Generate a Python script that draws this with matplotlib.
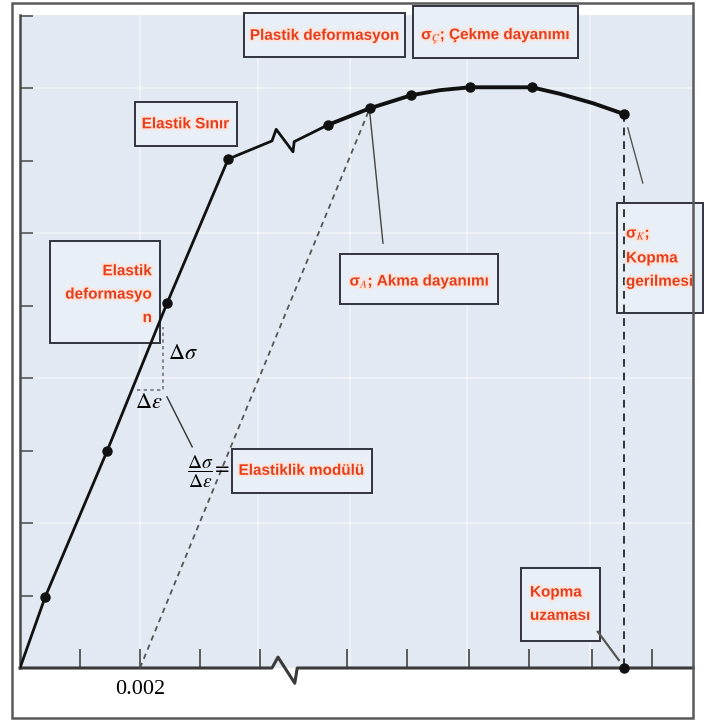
import matplotlib.pyplot as plt
import matplotlib.patheffects as pe
from matplotlib.patches import Rectangle

plt.rcParams['mathtext.fontset'] = 'stix'

# ==== veri: x = birim uzama (tik aralığı), y = gerilme (tik aralığı) ====
elastic_x = [0.0, 0.42, 1.45, 2.45, 3.47]
elastic_y = [0.0, 0.98, 2.99, 5.03, 7.02]
break_x = [3.47, 4.20, 4.27, 4.55, 4.57, 5.13]
break_y = [7.02, 7.27, 7.43, 7.12, 7.26, 7.49]
plastic_x = [5.13, 5.83, 6.52, 7.00, 7.50, 8.53, 9.00, 9.55, 10.07]
plastic_y = [7.49, 7.72, 7.90, 7.97, 8.01, 8.01, 7.92, 7.79, 7.64]
marker_x = [0.42, 1.45, 2.45, 3.47, 5.13, 5.83, 6.52, 7.50, 8.53, 10.07]
marker_y = [0.98, 2.99, 5.03, 7.02, 7.49, 7.72, 7.90, 8.01, 8.01, 7.64]
tail_x = [10.13, 10.38]
tail_y = [7.45, 6.69]
offset_x = [2.0, 5.83]
offset_y = [0.0, 7.72]
fracture_x = 10.07
fracture_y = 7.64
tri_x = [1.95, 2.38, 2.38]
tri_y = [3.83, 3.83, 4.70]
axis_x = [0, 4.20, 4.30, 4.58, 4.62, 11.22]
axis_y = [0, 0, 0.15, -0.21, 0, 0]
xticks = [1, 2, 3, 4, 5.45, 6.45, 7.48, 8.48, 9.53, 10.53]
xtick_labels = ['', '0.002', '', '', '', '', '', '', '', '']
yticks = [1, 2, 3, 4, 5, 6, 7, 8, 9]
grid_x = [2, 3.97, 5.5, 7.45, 9.5]
grid_y = [2, 4, 6, 8]

# ==== kutular ve yazılar ====
red = '#e63d1c'
label_font = ['Liberation Sans Narrow', 'Liberation Sans', 'DejaVu Sans']
boxes = [
    (3.73, 8.43, 6.42, 9.03),   # Plastik deformasyon
    (6.55, 8.41, 9.30, 9.13),   # Çekme dayanımı
    (1.92, 7.20, 3.62, 7.81),   # Elastik Sınır
    (0.50, 4.48, 2.33, 5.89),   # Elastik deformasyon
    (5.33, 5.02, 7.97, 5.71),   # Akma dayanımı
    (3.53, 2.41, 5.87, 3.02),   # Elastiklik modülü
    (9.95, 4.90, 11.38, 6.41),  # Kopma gerilmesi
    (8.35, 0.37, 9.67, 1.38),   # Kopma uzaması
]
labels = [
    ('Plastik deformasyon', 5.08, 8.72, 'center'),
    ('σ$_{Ç}$; Çekme dayanımı', 7.93, 8.72, 'center'),
    ('Elastik Sınır', 2.76, 7.50, 'center'),
    ('Elastik\ndeformasyo\nn', 2.20, 5.15, 'right'),
    ('σ$_{A}$; Akma dayanımı', 6.66, 5.33, 'center'),
    ('Elastiklik modülü', 4.70, 2.72, 'center'),
    ('σ$_{K}$;\nKopma\ngerilmesi', 10.10, 5.65, 'left'),
    ('Kopma\nuzaması', 8.50, 0.88, 'left'),
]

fig = plt.figure(figsize=(7.12, 7.22), dpi=100)
ax = fig.add_axes([20 / 712, 54 / 722, 673 / 712, 653 / 722])
ax.set_facecolor('#e2e9f2')
ax.set_xlim(0, 11.217)
ax.set_ylim(0, 9.007)

for gx in grid_x:
    ax.axvline(gx, color='white', lw=1.4, alpha=0.45, zorder=0.5)
for gy in grid_y:
    ax.axhline(gy, color='white', lw=1.4, alpha=0.45, zorder=0.5)

for s in ['top', 'right', 'bottom']:
    ax.spines[s].set_visible(False)
ax.spines['left'].set_color('#4a4a4a')
ax.spines['left'].set_linewidth(1.8)

ax.set_xticks(xticks)
ax.set_xticklabels(xtick_labels, fontsize=16, family=['Liberation Serif', 'DejaVu Serif'])
ax.set_yticks(yticks)
ax.set_yticklabels([])
ax.tick_params(axis='x', direction='in', length=14, width=1.2, color='#444444', pad=9)
ax.tick_params(axis='y', direction='in', length=9, width=1.2, color='#555555')

# alt eksen (kırıklı)
ax.plot(axis_x, axis_y, color='#3a3a3a', lw=2.2, clip_on=False, zorder=3)

# kutular
for x0, y0, x1, y1 in boxes:
    ax.add_patch(Rectangle((x0, y0), x1 - x0, y1 - y0, facecolor='#e8eff7',
                           edgecolor='#33333f', lw=1.4, clip_on=False, zorder=2))

# kesikli yardımcı çizgiler
ax.plot(offset_x, offset_y, color='#555555', lw=1.3, ls=(0, (3, 2.5)), zorder=3)
ax.plot([fracture_x, fracture_x], [fracture_y, 0], color='#333333', lw=1.4,
        ls=(0, (4, 3)), zorder=3)
ax.plot(tri_x, tri_y, color='#777777', lw=1.2, ls=(0, (2, 2)), zorder=3)

# ince işaret çizgileri
ax.plot([5.83, 6.05], [7.66, 5.86], color='#444444', lw=1.0, zorder=3)
ax.plot([2.45, 2.87], [3.74, 3.05], color='#333333', lw=1.0, zorder=3)
ax.plot([9.63, 9.98], [0.50, 0.11], color='#555555', lw=1.6, zorder=3)
ax.plot(tail_x, tail_y, color='#555555', lw=1.0, zorder=3)

# gerilme-uzama eğrisi
ax.plot(elastic_x, elastic_y, color='#111111', lw=2.0, zorder=4)
ax.plot(break_x, break_y, color='#111111', lw=2.0, zorder=4)
ax.plot(plastic_x, plastic_y, color='#111111', lw=2.8, zorder=4)
ax.plot(marker_x, marker_y, ls='none', marker='o', ms=6.5, color='#111111', zorder=5)
ax.plot([fracture_x], [0], ls='none', marker='o', ms=6.5, color='#111111',
        clip_on=False, zorder=5)

# kırmızı etiketler
halo = [pe.withStroke(linewidth=3, foreground='#fbe4dc')]
for txt, x, y, ha in labels:
    ax.text(x, y, txt, color=red, fontsize=11, fontweight='bold', family=label_font,
            ha=ha, va='center', linespacing=1.85, path_effects=halo, zorder=6, clip_on=True)

# Δσ / Δε
ax.text(2.72, 4.35, r'$\Delta\sigma$', fontsize=16, ha='center', va='center', zorder=6)
ax.text(2.15, 3.67, r'$\Delta\varepsilon$', fontsize=16, ha='center', va='center', zorder=6)
ax.text(2.78, 2.70, r'$\dfrac{\Delta\sigma}{\Delta\varepsilon}$=', fontsize=14,
        ha='left', va='center', zorder=6)

# dış çerçeve
fig.patches.append(Rectangle((12 / 712, 4 / 722), 681 / 712, 715 / 722,
                             transform=fig.transFigure, fill=False,
                             edgecolor='#5a5a5a', lw=1.8))

fig.savefig('out.png', dpi=100, facecolor='white')
